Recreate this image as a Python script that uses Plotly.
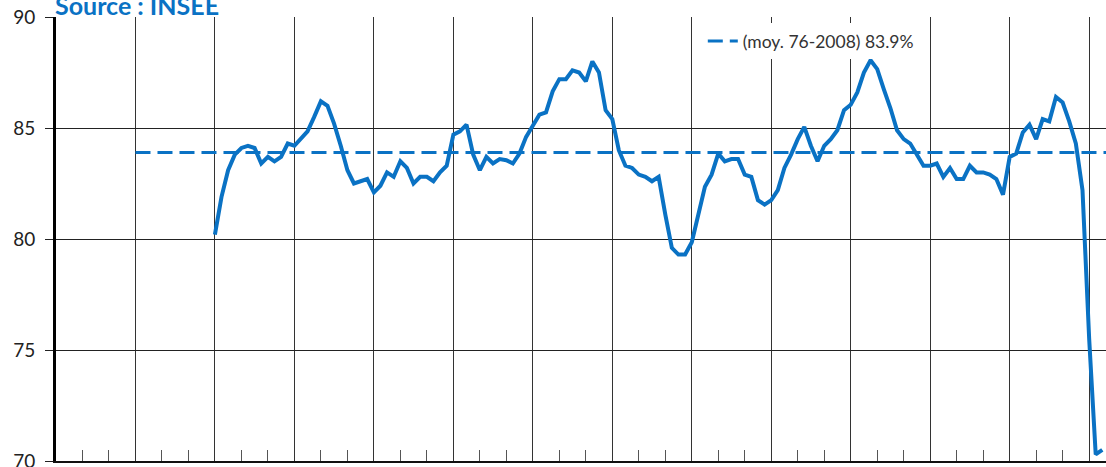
import pandas as pd
import plotly.graph_objects as go

# Taux d'utilisation des capacités de production (industrie manufacturière), trimestriel
start_quarter = "1976-01-01"
tuc = [
    80.2, 81.9, 83.1, 83.8, 84.1, 84.2, 84.1, 83.4, 83.7, 83.5,
    83.7, 84.3, 84.2, 84.5, 84.85, 85.5, 86.2, 86.0, 85.2, 84.2,
    83.1, 82.5, 82.6, 82.7, 82.1, 82.4, 83.0, 82.8, 83.5, 83.2,
    82.5, 82.8, 82.8, 82.6, 83.0, 83.3, 84.7, 84.85, 85.15, 83.8,
    83.1, 83.7, 83.4, 83.6, 83.55, 83.4, 83.85, 84.6, 85.1, 85.6,
    85.7, 86.65, 87.2, 87.2, 87.6, 87.5, 87.1, 88.0, 87.5, 85.8,
    85.4, 84.0, 83.3, 83.2, 82.9, 82.8, 82.6, 82.8, 81.1, 79.6,
    79.3, 79.3, 79.85, 81.1, 82.35, 82.9, 83.85, 83.5, 83.6, 83.6,
    82.9, 82.8, 81.75, 81.55, 81.75, 82.2, 83.2, 83.8, 84.5, 85.05,
    84.2, 83.5, 84.2, 84.5, 84.9, 85.8, 86.05, 86.6, 87.5, 88.05,
    87.65, 86.75, 85.9, 84.9, 84.5, 84.3, 83.8, 83.3, 83.3, 83.4,
    82.8, 83.2, 82.7, 82.7, 83.3, 83.0, 83.0, 82.9, 82.7, 82.0,
    83.7, 83.85, 84.8, 85.15, 84.5, 85.4, 85.3, 86.4, 86.15, 85.3,
    84.3, 82.2, 75.5, 70.3, 70.5,
]
dates = pd.date_range(start_quarter, periods=len(tuc), freq="QS")

# Moyenne de long terme
mean_label = "(moy. 76-2008) 83.9%"
mean_value = 83.9
mean_span = ["1973-01-01", "2009-08-21"]

y_ticks = [70, 75, 80, 85, 90]

BLUE = "#0a72c4"
FONT = "Lato, 'Open Sans', sans-serif"

fig = go.Figure()
fig.add_trace(go.Scatter(
    x=mean_span, y=[mean_value, mean_value], mode="lines",
    name=mean_label, showlegend=True,
    line=dict(color=BLUE, width=3, dash="15px,7px"),
    hoverinfo="skip",
))
fig.add_trace(go.Scatter(
    x=dates, y=tuc, mode="lines", showlegend=False,
    line=dict(color=BLUE, width=4, shape="linear"),
))

fig.update_layout(
    width=1106, height=467,
    margin=dict(l=56, r=0, t=17, b=6, autoexpand=False),
    paper_bgcolor="white", plot_bgcolor="white",
    font=dict(family=FONT, color="#222"),
    showlegend=True,
    legend=dict(
        x=0.616, y=0.986, xanchor="left", yanchor="top",
        bgcolor="white", borderwidth=0,
        font=dict(size=17.5, color="#333", family=FONT),
        itemwidth=30,
    ),
    annotations=[dict(
        text="<b>Source : INSEE</b>", xref="paper", yref="paper",
        x=0.0, y=1.0, xanchor="left", yanchor="bottom", yshift=-5, xshift=-3,
        showarrow=False, font=dict(size=25, color=BLUE, family=FONT),
    )],
)

fig.update_xaxes(
    type="date", range=["1970-01-01", "2009-08-21"],
    tickmode="linear", tick0="1970-01-01", dtick="M36",
    showgrid=True, gridcolor="#333", gridwidth=1,
    ticks="inside", ticklen=11, tickcolor="#333", tickwidth=1,
    showticklabels=False,
    minor=dict(dtick="M12", tick0="1970-01-01", ticks="inside", ticklen=11,
               tickcolor="#555", tickwidth=1, showgrid=False),
    showline=True, linecolor="#111", linewidth=2,
    zeroline=False, automargin=False,
)
fig.update_yaxes(
    range=[70, 90], tickmode="array", tickvals=y_ticks,
    ticktext=[str(v) for v in y_ticks],
    showgrid=True, gridcolor="#222", gridwidth=1,
    ticks="outside", ticklen=8, tickcolor="#222", tickwidth=1,
    ticklabelstandoff=6, ticklabeloverflow="allow",
    tickfont=dict(size=19, color="#222", family=FONT),
    showline=True, linecolor="#000", linewidth=3,
    zeroline=False, automargin=False,
)

fig.write_html("out.html")
